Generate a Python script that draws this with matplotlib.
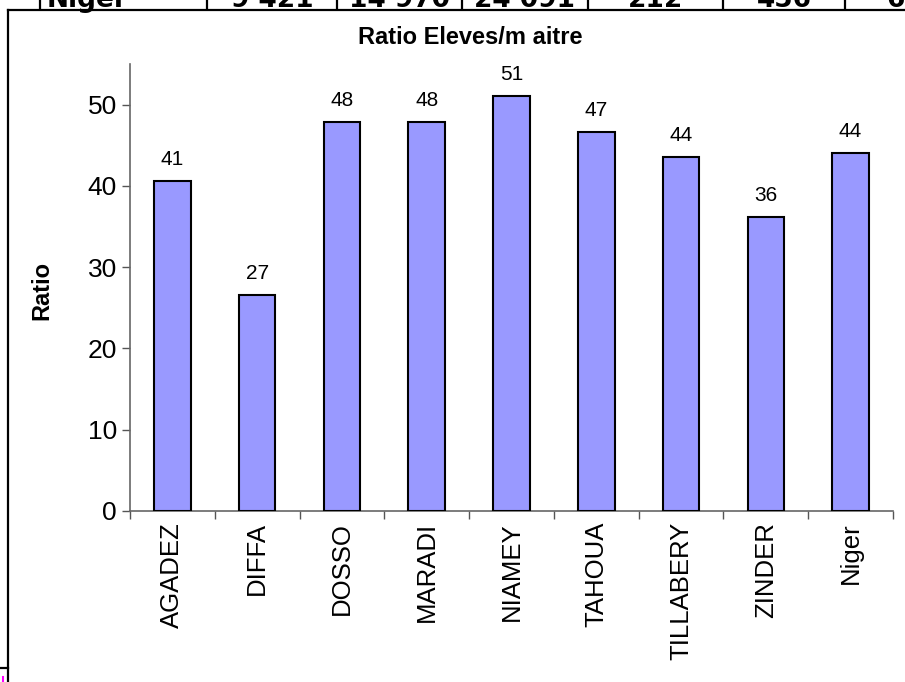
import matplotlib
matplotlib.use("Agg")
import matplotlib.pyplot as plt
from matplotlib.lines import Line2D
import numpy as np

plt.rcParams['font.family'] = ['Liberation Sans', 'DejaVu Sans']

# data
regions = ['AGADEZ', 'DIFFA', 'DOSSO', 'MARADI', 'NIAMEY', 'TAHOUA', 'TILLABERY', 'ZINDER', 'Niger']
ratio = [40.6, 26.6, 47.9, 47.9, 51.1, 46.6, 43.5, 36.2, 44.1]
y_ticks = [0, 10, 20, 30, 40, 50]

# table row cut off above the chart
table_cells = ['Niger', '9 421', '14 970', '24 091', '212', '456', '64']

W, H = 905, 682
fig = plt.figure(figsize=(W / 100, H / 100), dpi=100)

def fx(px):
    return px / W

def fy(py):
    return 1 - py / H

ax = fig.add_axes([fx(130), fy(511), (893 - 130) / W, (511 - 64) / H])

x = np.arange(len(regions))
bars = ax.bar(x, ratio, width=0.43, color='#9999FF', edgecolor='black', linewidth=1.5, zorder=3)

for xi, v in zip(x, ratio):
    ax.annotate('{:.0f}'.format(v), (xi, v), xytext=(0, 11.5), textcoords='offset points',
                ha='center', va='baseline', fontsize=15)

ax.set_xlim(-0.5, len(regions) - 0.5)
ax.set_ylim(0, 55)
ax.set_yticks(y_ticks)
ax.tick_params(axis='y', direction='out', length=5.5, width=1, color='#555555', labelsize=19, pad=4)

# category boundaries as major ticks, names on minor ticks
ax.set_xticks(np.arange(-0.5, len(regions)), labels=[])
ax.set_xticks(x, labels=regions, minor=True)
ax.tick_params(axis='x', which='major', direction='out', length=5.5, width=1, color='#555555')
ax.tick_params(axis='x', which='minor', length=0, labelsize=18.5, pad=8, labelrotation=90)

for s in ['top', 'right']:
    ax.spines[s].set_visible(False)
for s in ['left', 'bottom']:
    ax.spines[s].set_color('#666666')
    ax.spines[s].set_linewidth(1.2)

fig.text(fx(42), fy(290), 'Ratio', rotation=90, ha='center', va='center', fontsize=17, fontweight='bold')

fig.text(fx(470), fy(37), 'Ratio Eleves/m aitre', ha='center', va='center', fontsize=17, fontweight='bold')

# chart frame and spreadsheet borders
fig.add_artist(Line2D([fx(8), 1], [fy(9.5), fy(9.5)], color='black', lw=1.6, transform=fig.transFigure))
fig.add_artist(Line2D([fx(8), fx(8)], [fy(9.5), 0], color='black', lw=1.6, transform=fig.transFigure))
fig.add_artist(Line2D([0, fx(8)], [fy(668), fy(668)], color='black', lw=1.6, transform=fig.transFigure))
fig.add_artist(Line2D([fx(2.5), fx(2.5)], [fy(677), fy(682)], color='magenta', lw=1.5, transform=fig.transFigure))

cell_edges = [40, 207, 337, 462, 588, 723, 845, 965]
for e in cell_edges[:-1]:
    fig.add_artist(Line2D([fx(e), fx(e)], [fy(9), 1], color='black', lw=1.6, transform=fig.transFigure))
for i, t in enumerate(table_cells):
    if i == 0:
        fig.text(fx(47), fy(7), t, ha='left', va='baseline', fontsize=19, fontweight='bold', family='DejaVu Sans')
    else:
        cx = (cell_edges[i] + cell_edges[i + 1]) / 2
        fig.text(fx(cx), fy(7), t, ha='center', va='baseline', fontsize=19, fontweight='bold', family='DejaVu Sans')

fig.savefig('out.png', dpi=100)
